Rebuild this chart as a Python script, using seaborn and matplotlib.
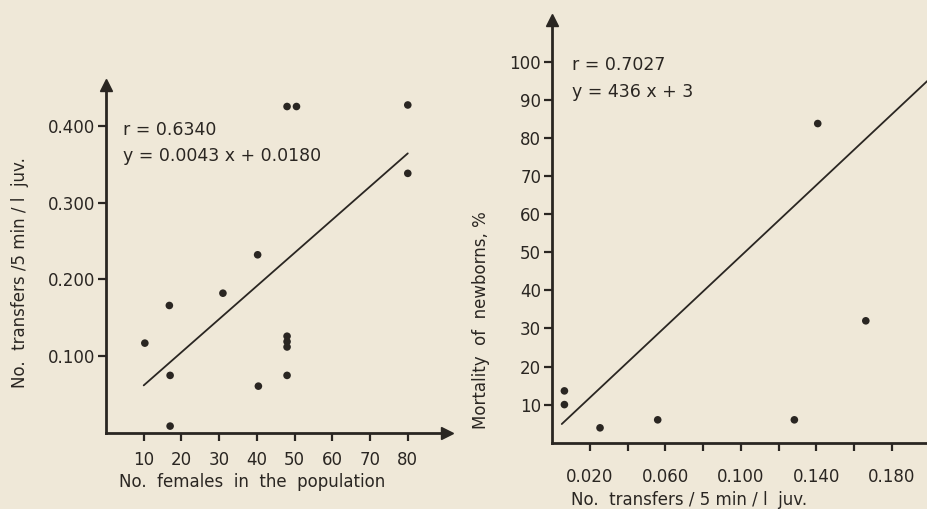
import matplotlib
matplotlib.use("Agg")
import matplotlib.pyplot as plt
import matplotlib.ticker as mticker
import seaborn as sns
import pandas as pd

# left panel: females vs transfers
females = [10.3, 16.8, 17, 17, 31, 40.2, 40.4, 48, 48, 48, 48, 48, 50.5, 80, 80]
transfers = [0.117, 0.166, 0.075, 0.009, 0.182, 0.232, 0.061,
             0.126, 0.119, 0.112, 0.075, 0.425, 0.425, 0.427, 0.338]
fit1_x = [10, 80]
fit1_y = [0.062, 0.364]

# right panel: transfers vs mortality
transf2 = [0.0064, 0.0064, 0.0253, 0.0559, 0.1284, 0.1408, 0.1663]
mortality = [13.6, 10.0, 3.9, 6.0, 6.0, 83.8, 32.0]
fit2_x = [0.005, 0.199]
fit2_y = [4.9, 95.0]

left_xticks = [10, 20, 30, 40, 50, 60, 70, 80]
left_yticks = [0.1, 0.2, 0.3, 0.4]
right_xticks = [0.02, 0.04, 0.06, 0.08, 0.10, 0.12, 0.14, 0.16, 0.18]
right_xlabels = ["0.020", "", "0.060", "", "0.100", "", "0.140", "", "0.180"]
right_yticks = [10, 20, 30, 40, 50, 60, 70, 80, 90, 100]

paper = "#efe8d8"
ink = "#2a2622"
fs = 12

sns.set_theme(style="ticks")
plt.rcParams["font.family"] = ["DejaVu Sans"]
plt.rcParams["text.color"] = ink
plt.rcParams["axes.labelcolor"] = ink
plt.rcParams["xtick.color"] = ink
plt.rcParams["ytick.color"] = ink

fig = plt.figure(figsize=(9.28, 5.09), dpi=100, facecolor=paper)
ax1 = fig.add_axes([0.1142, 0.1493, 0.3675, 0.6837])
ax2 = fig.add_axes([0.5952, 0.1303, 0.4048, 0.8305])

d1 = pd.DataFrame({"x": females, "y": transfers})
d2 = pd.DataFrame({"x": transf2, "y": mortality})

for ax in (ax1, ax2):
    ax.set_facecolor(paper)
    for s in ("top", "right"):
        ax.spines[s].set_visible(False)
    for s in ("left", "bottom"):
        ax.spines[s].set_linewidth(2.0)
        ax.spines[s].set_color(ink)
    ax.tick_params(width=1.6, length=6, labelsize=fs)

sns.scatterplot(data=d1, x="x", y="y", ax=ax1, color=ink, s=30, edgecolor="none")
sns.lineplot(x=fit1_x, y=fit1_y, ax=ax1, color=ink, linewidth=1.3)
ax1.set_xlim(0, 90.4)
ax1.set_ylim(0, 0.453)
ax1.set_xticks(left_xticks)
ax1.set_yticks(left_yticks)
ax1.yaxis.set_major_formatter(mticker.FormatStrFormatter("%.3f"))
ax1.tick_params(axis="x", pad=7)
ax1.tick_params(axis="y", pad=2)
ax1.set_xlabel("")
ax1.set_ylabel("")
ax1.text(0.428, -0.141, "No.  females  in  the  population", transform=ax1.transAxes,
         ha="center", va="center", fontsize=fs)
ax1.text(-0.252, 0.46, "No.  transfers /5 min / l  juv.", transform=ax1.transAxes,
         ha="center", va="center", rotation=90, fontsize=fs)
ax1.text(4.5, 0.395, "r = 0.6340", fontsize=fs + 0.5, va="center")
ax1.text(4.5, 0.360, "y = 0.0043 x + 0.0180", fontsize=fs + 0.5, va="center")
ax1.plot([1], [0], marker=">", color=ink, markersize=8, transform=ax1.transAxes, clip_on=False)
ax1.plot([0], [1], marker="^", color=ink, markersize=8, transform=ax1.transAxes, clip_on=False)

sns.scatterplot(data=d2, x="x", y="y", ax=ax2, color=ink, s=30, edgecolor="none")
sns.lineplot(x=fit2_x, y=fit2_y, ax=ax2, color=ink, linewidth=1.3)
ax2.set_xlim(0, 0.1993)
ax2.set_ylim(0, 111)
ax2.set_xticks(right_xticks)
ax2.set_xticklabels(right_xlabels)
ax2.set_yticks(right_yticks)
ax2.tick_params(axis="x", pad=12)
ax2.tick_params(axis="y", pad=2)
ax2.set_xlabel("")
ax2.set_ylabel("")
ax2.text(0.365, -0.1356, "No.  transfers / 5 min / l  juv.", transform=ax2.transAxes,
         ha="center", va="center", fontsize=fs)
ax2.text(-0.19, 0.29, "Mortality  of  newborns, %", transform=ax2.transAxes,
         ha="center", va="center", rotation=90, fontsize=fs)
ax2.text(0.0103, 99.1, "r = 0.7027", fontsize=fs + 0.5, va="center")
ax2.text(0.0103, 92.2, "y = 436 x + 3", fontsize=fs + 0.5, va="center")
ax2.plot([0], [1], marker="^", color=ink, markersize=8, transform=ax2.transAxes, clip_on=False)

fig.savefig("out.png", dpi=100, facecolor=paper)
